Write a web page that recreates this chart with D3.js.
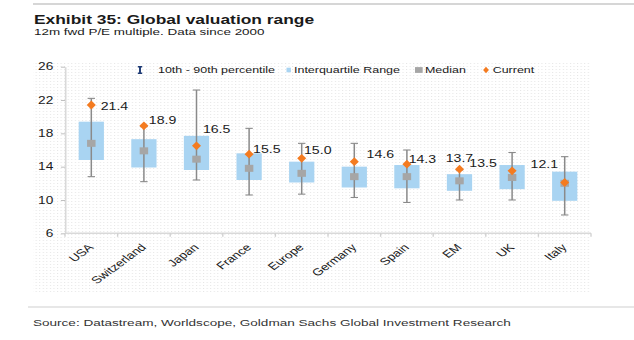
<!DOCTYPE html>
<html>
<head>
<meta charset="utf-8">
<title>Global valuation range</title>
<script src="https://cdn.jsdelivr.net/npm/d3@7"></script>
<style>
    body { margin: 0; background: #fff; }
    svg { display: block; }
    text { font-family: "Liberation Sans", Arial, sans-serif; fill: #1a1a1a; }
</style>
</head>
<body>
<svg id="chart" width="634" height="340"></svg>
<script>
// data
var countries = ["USA", "Switzerland", "Japan", "France", "Europe", "Germany", "Spain", "EM", "UK", "Italy"];
var p10 = [12.8, 12.2, 12.4, 10.6, 10.7, 10.3, 9.7, 10.0, 10.0, 8.2];
var p90 = [22.2, 18.8, 23.2, 18.6, 16.8, 16.8, 16.0, 13.6, 15.7, 15.2];
var q1 = [14.8, 13.9, 13.6, 12.4, 12.1, 11.5, 11.4, 11.1, 11.3, 9.9];
var q3 = [19.4, 17.3, 17.7, 15.6, 14.6, 14.0, 14.2, 13.1, 14.2, 13.4];
var median = [16.8, 15.9, 14.9, 13.8, 13.2, 12.8, 12.8, 12.3, 12.7, 12.0];
var current = [21.4, 18.9, 16.5, 15.5, 15.0, 14.6, 14.3, 13.7, 13.5, 12.1];
var yTicks = [6, 10, 14, 18, 22, 26];
var legendNames = ["10th - 90th percentile", "Interquartile Range", "Median", "Current"];

// the original picture is stretched sideways, so draw in a narrower space and stretch it
var SX = 1.37;
var W = 634 / SX, H = 340;
var svg = d3.select("#chart")
    .attr("viewBox", "0 0 " + W + " " + H)
    .attr("preserveAspectRatio", "none");

// label offsets (dx, dy, anchor) next to the diamonds
var labelPos = [[6.9, 5, "start"], [3.6, -2.2, "start"], [4.7, -13.2, "start"], [2.9, -1.5, "start"],
    [1.7, -4, "start"], [9, -4, "start"], [1.3, -1.5, "start"], [0, -6.8, "middle"],
    [-11.2, -3.5, "end"], [-4.9, -14, "end"]];

var rows = countries.map(function(c, i) {
    return {name: c, lo: p10[i], hi: p90[i], q1: q1[i], q3: q3[i], med: median[i], cur: current[i], lab: labelPos[i]};
});

var x = d3.scaleBand().domain(countries).range([65 / SX, 591 / SX]).padding(0);
var y = d3.scaleLinear().domain([6, 26]).range([233.3, 66.7]);
var cx = function(d) { return x(d.name) + x.step() / 2; };

// dotted chart area
var defs = svg.append("defs");
var pat = defs.append("pattern").attr("id", "dots")
    .attr("patternUnits", "userSpaceOnUse").attr("width", 2.6).attr("height", 3);
pat.append("rect").attr("width", 0.8).attr("height", 1).attr("fill", "#e6e6e6");
svg.append("rect")
    .attr("x", 33 / SX).attr("y", 62)
    .attr("width", (590 - 33) / SX).attr("height", 293 - 62)
    .attr("fill", "url(#dots)");

// header / footer rules
svg.append("line").attr("x1", 33 / SX).attr("x2", W).attr("y1", 4).attr("y2", 4)
    .attr("stroke", "#c8c8c8").attr("stroke-width", 1.5);
svg.append("line").attr("x1", 28 / SX).attr("x2", W).attr("y1", 307).attr("y2", 307)
    .attr("stroke", "#d0d0d0").attr("stroke-width", 1.2);

svg.append("text").attr("x", 34 / SX).attr("y", 24)
    .style("font-size", "12.7px").style("font-weight", "bold")
    .text("Exhibit 35: Global valuation range");
svg.append("text").attr("x", 34 / SX).attr("y", 35)
    .style("font-size", "9.8px")
    .text("12m fwd P/E multiple. Data since 2000");
svg.append("text").attr("x", 33 / SX).attr("y", 326.5)
    .style("font-size", "9.9px").style("fill", "#333")
    .text("Source: Datastream, Worldscope, Goldman Sachs Global Investment Research");

// y axis
var yAxis = d3.axisLeft(y).tickValues(yTicks).tickSize(3).tickSizeOuter(0).tickPadding(5.5);
var gy = svg.append("g").attr("transform", "translate(" + (65 / SX) + ",0)").call(yAxis);
gy.select(".domain").attr("stroke", "#d9d9d9").attr("stroke-width", 1.2);
gy.selectAll(".tick line").attr("stroke", "#c0c0c0");
gy.selectAll(".tick text").style("font-size", "10px").style("font-family", "Liberation Sans, Arial, sans-serif").attr("fill", "#1a1a1a");

// x axis
var gx = svg.append("g").attr("transform", "translate(0," + y(6) + ")");
gx.append("line").attr("x1", x.range()[0]).attr("x2", x.range()[1])
    .attr("stroke", "#d9d9d9").attr("stroke-width", 1.6);
gx.selectAll(".bound").data(countries.concat(["end"])).enter().append("line")
    .attr("x1", function(d, i) { return x.range()[0] + i * x.step(); })
    .attr("x2", function(d, i) { return x.range()[0] + i * x.step(); })
    .attr("y1", 0).attr("y2", 3.5)
    .attr("stroke", "#d0d0d0");
svg.selectAll(".xlab").data(rows).enter().append("text")
    .attr("transform", function(d) { return "translate(" + (cx(d) + 2.2) + ",248) rotate(-45)"; })
    .attr("text-anchor", "end")
    .style("font-size", "10px")
    .text(function(d) { return d.name; });

var boxW = x.step() * 0.48;

// interquartile boxes
svg.selectAll(".box").data(rows).enter().append("rect")
    .attr("x", function(d) { return cx(d) - boxW / 2; })
    .attr("y", function(d) { return y(d.q3); })
    .attr("width", boxW)
    .attr("height", function(d) { return y(d.q1) - y(d.q3); })
    .attr("fill", "#a9d4f2");

// 10-90 whiskers
var wk = svg.selectAll(".whisker").data(rows).enter().append("g").attr("stroke", "#8a8a8a").attr("stroke-width", 1.1);
wk.append("line")
    .attr("x1", cx).attr("x2", cx)
    .attr("y1", function(d) { return y(d.hi); })
    .attr("y2", function(d) { return y(d.lo); });
wk.append("line")
    .attr("x1", function(d) { return cx(d) - 2.7; }).attr("x2", function(d) { return cx(d) + 2.7; })
    .attr("y1", function(d) { return y(d.hi); }).attr("y2", function(d) { return y(d.hi); });
wk.append("line")
    .attr("x1", function(d) { return cx(d) - 2.7; }).attr("x2", function(d) { return cx(d) + 2.7; })
    .attr("y1", function(d) { return y(d.lo); }).attr("y2", function(d) { return y(d.lo); });

// medians
svg.selectAll(".med").data(rows).enter().append("rect")
    .attr("x", function(d) { return cx(d) - 3.1; })
    .attr("y", function(d) { return y(d.med) - 3.5; })
    .attr("width", 6.2).attr("height", 7)
    .attr("fill", "#a6a6a6");

// current values
function diamond(px, py, hw, hh) {
    return "M" + px + "," + (py - hh) + "L" + (px + hw) + "," + py + "L" + px + "," + (py + hh) + "L" + (px - hw) + "," + py + "Z";
}
svg.selectAll(".cur").data(rows).enter().append("path")
    .attr("d", function(d) { return diamond(cx(d), y(d.cur), 3.3, 4.4); })
    .attr("fill", "#f47b20");

svg.selectAll(".lab").data(rows).enter().append("text")
    .attr("x", function(d) { return cx(d) + d.lab[0]; })
    .attr("y", function(d) { return y(d.cur) + d.lab[1]; })
    .attr("text-anchor", function(d) { return d.lab[2]; })
    .style("font-size", "10.3px")
    .text(function(d) { return d3.format(".1f")(d.cur); });

// legend
var lg = svg.append("g").attr("transform", "translate(0,70)");
var ix = 140 / SX;
lg.append("path")
    .attr("d", "M" + (ix - 1.6) + ",-3.3H" + (ix + 1.6) + "M" + ix + ",-3.3V3.3M" + (ix - 1.6) + ",3.3H" + (ix + 1.6))
    .attr("stroke", "#1f3b75").attr("stroke-width", 1.4).attr("fill", "none");
lg.append("rect").attr("x", 286.5 / SX).attr("y", -2.3).attr("width", 3.2).attr("height", 4.6).attr("fill", "#a9d4f2");
lg.append("rect").attr("x", 415 / SX).attr("y", -2.9).attr("width", 5.6).attr("height", 5.8).attr("fill", "#a6a6a6");
lg.append("path").attr("d", diamond(486 / SX, 0, 2.1, 3.2)).attr("fill", "#f47b20");
var legX = [158, 294, 425, 492.7];
lg.selectAll("text").data(legendNames).enter().append("text")
    .attr("x", function(d, i) { return legX[i] / SX; })
    .attr("y", 3.3)
    .style("font-size", "9.1px")
    .text(function(d) { return d; });
</script>
</body>
</html>
